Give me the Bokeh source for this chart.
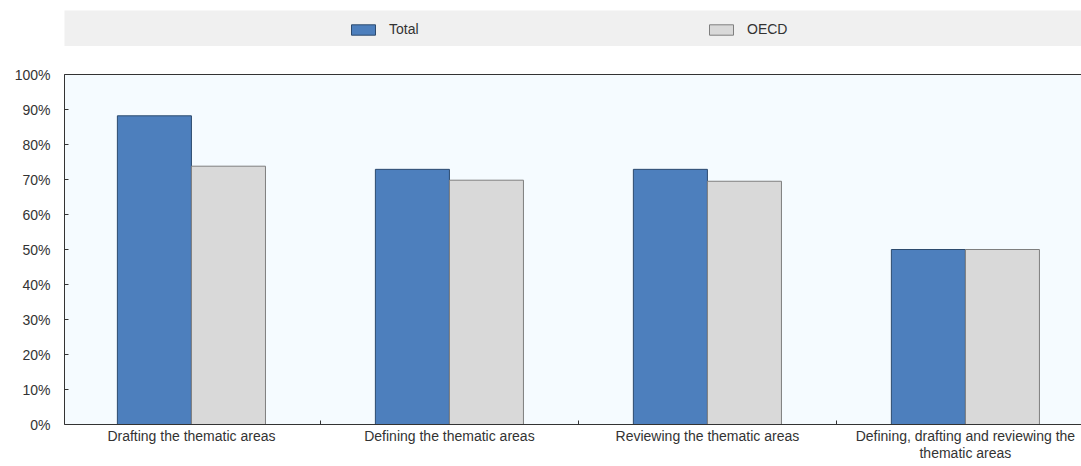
from bokeh.plotting import figure
from bokeh.models import (Range1d, FixedTicker, PrintfTickFormatter, Legend, LegendItem,
                          ColumnDataSource, LinearAxis)
from bokeh.layouts import column
from bokeh.transform import dodge
from bokeh.embed import file_html
from bokeh.resources import INLINE

categories = ["Drafting the thematic areas", "Defining the thematic areas",
              "Reviewing the thematic areas",
              "Defining, drafting and reviewing the\nthematic areas"]
total = [88.2, 72.9, 72.9, 50.0]
oecd = [73.8, 69.8, 69.5, 50.0]
y_ticks = [0, 10, 20, 30, 40, 50, 60, 70, 80, 90, 100]

FONT = "Liberation Sans"
TXT = "#333333"
BLUE = "#4d7fbd"
GREY = "#d9d9d9"

pos = list(range(len(categories)))
src = ColumnDataSource(dict(x=pos, total=total, oecd=oecd))
bw = 0.287

# ---- legend band ----
lf = figure(width=1081, height=46, output_backend="svg", toolbar_location=None,
            x_axis_type=None, y_axis_type=None, x_range=Range1d(-0.492, 3.45),
            y_range=Range1d(0, 100),
            min_border_left=64, min_border_right=0, min_border_top=10, min_border_bottom=0)
lf.background_fill_color = "#f0f0f0"
lf.border_fill_color = "white"
lf.outline_line_color = None
lf.grid.visible = False
r1 = lf.vbar(x=dodge("x", -bw / 2), top="total", width=bw, source=src,
             fill_color=BLUE, line_color="#2c4a6e", visible=False)
r2 = lf.vbar(x=dodge("x", bw / 2), top="oecd", width=bw, source=src,
             fill_color=GREY, line_color="#7f7f7f", visible=False)
leg = Legend(items=[LegendItem(label="Total", renderers=[r1]),
                    LegendItem(label="OECD", renderers=[r2])],
             orientation="horizontal", location=(284, 9),
             glyph_width=30, glyph_height=13, label_standoff=11, label_width=40,
             spacing=277, padding=0, margin=0,
             background_fill_alpha=0, border_line_color=None,
             label_text_font=FONT, label_text_font_size="14px", label_text_color=TXT)
lf.add_layout(leg)

# ---- main chart ----
p = figure(width=1081, height=420, output_backend="svg", toolbar_location=None,
           x_range=Range1d(-0.492, 3.45), y_range=Range1d(0, 100),
           min_border_left=64, min_border_right=0, min_border_top=28, min_border_bottom=42)
p.background_fill_color = "#f5fbff"
p.border_fill_color = "white"
p.outline_line_color = None
p.grid.visible = False

p.vbar(x=dodge("x", -bw / 2), top="total", width=bw, source=src,
       fill_color=BLUE, line_color="#2c4a6e", line_width=1)
p.vbar(x=dodge("x", bw / 2), top="oecd", width=bw, source=src,
       fill_color=GREY, line_color="#7f7f7f", line_width=1)

xa = p.xaxis[0]
xa.ticker = FixedTicker(ticks=pos, minor_ticks=[0.5, 1.5, 2.5, 3.5])
xa.major_label_overrides = {i: c for i, c in enumerate(categories)}
xa.major_tick_in = 0
xa.major_tick_out = 0
xa.minor_tick_in = 4
xa.minor_tick_out = 0
xa.minor_tick_line_color = TXT
xa.axis_line_color = TXT
xa.major_label_standoff = 3
xa.major_label_text_font = FONT
xa.major_label_text_font_size = "14px"
xa.major_label_text_color = TXT
xa.major_label_text_line_height = 1.1

top_axis = LinearAxis(ticker=FixedTicker(ticks=[]), axis_line_color=TXT,
                      major_label_text_font_size="0px", major_tick_in=0, major_tick_out=0,
                      minor_tick_in=0, minor_tick_out=0, major_label_standoff=0)
p.add_layout(top_axis, "above")

ya = p.yaxis[0]
ya.ticker = FixedTicker(ticks=y_ticks, minor_ticks=[])
ya.formatter = PrintfTickFormatter(format="%d%%")
ya.major_tick_in = 4
ya.major_tick_out = 0
ya.major_tick_line_color = TXT
ya.axis_line_color = TXT
ya.major_label_standoff = 14
ya.major_label_text_font = FONT
ya.major_label_text_font_size = "14px"
ya.major_label_text_color = TXT

layout = column(lf, p, spacing=0)
open("out.html", "w").write(file_html(layout, INLINE))
